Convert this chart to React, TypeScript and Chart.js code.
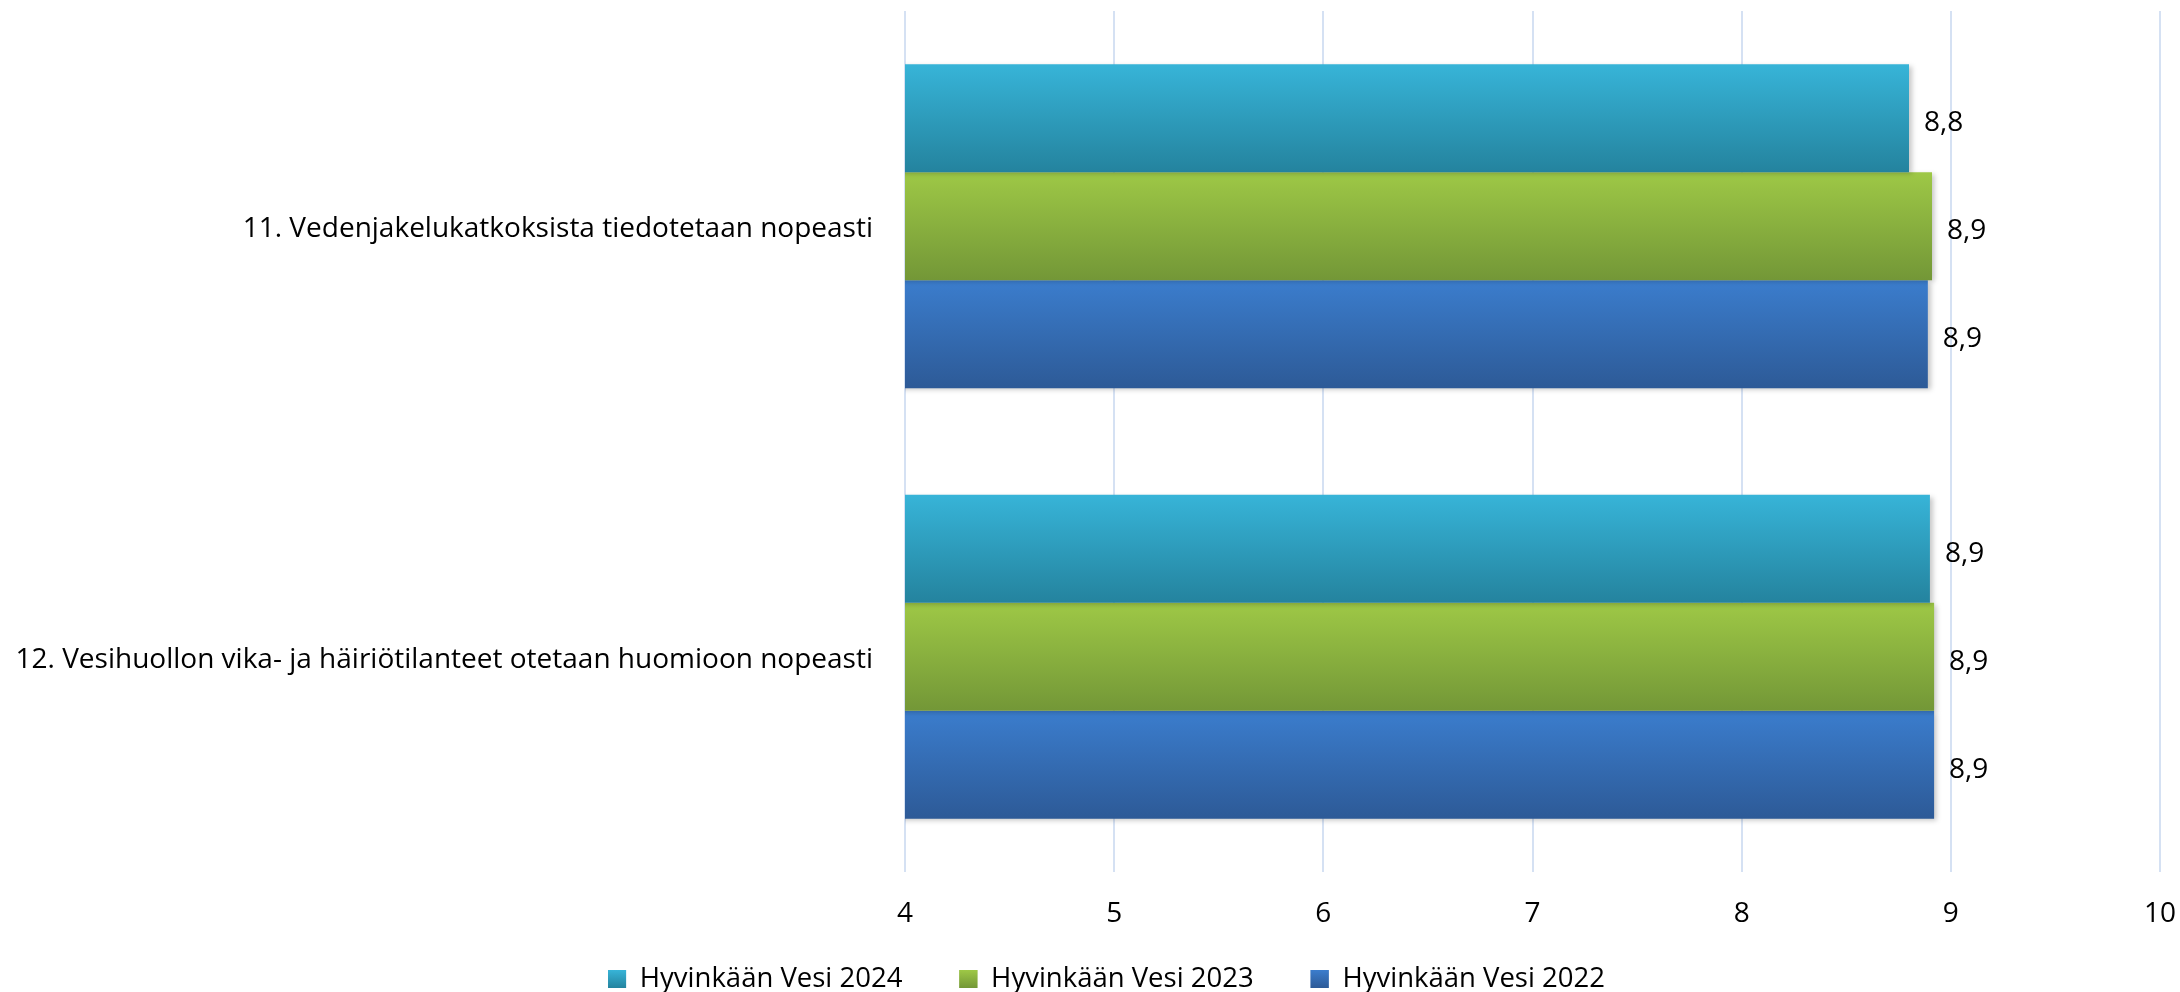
import React, { useEffect, useRef } from 'react';
import { Chart, registerables } from 'chart.js';

Chart.register(...registerables);

const categories = [
  '11. Vedenjakelukatkoksista tiedotetaan nopeasti',
  '12. Vesihuollon vika- ja häiriötilanteet otetaan huomioon nopeasti',
];
const seriesNames = ['Hyvinkään Vesi 2024', 'Hyvinkään Vesi 2023', 'Hyvinkään Vesi 2022'];
const values2024 = [8.8, 8.9];
const values2023 = [8.91, 8.92];
const values2022 = [8.89, 8.92];
const xTicks = [4, 5, 6, 7, 8, 9, 10];
const topColors = ['#37B4D8', '#9EC846', '#3B7DCD'];
const bottomColors = ['#24839E', '#739737', '#2D5A97'];
const midColors = ['#2E9CBC', '#89B040', '#346CB3'];

const FONT_FAMILY = '"Open Sans"';
const FONT_SIZE = 28;
const LEGEND_FONT_SIZE = 27.5;

const fmt = (v: number) => v.toFixed(1).replace('.', ',');

const gradientPlugin = {
  id: 'barGradient',
  afterLayout(chart: any) {
    const legend = chart.legend;
    if (!legend) return;
    const top = 979 - 57 - LEGEND_FONT_SIZE / 2;
    legend.top = top;
    legend.bottom = chart.height;
    legend.height = chart.height - top;
    legend.left = 53;
    legend.right = chart.width - 20;
    legend.width = legend.right - legend.left;
  },
  beforeDatasetsDraw(chart: any) {
    const ctx = chart.ctx;
    chart.data.datasets.forEach((_ds: any, di: number) => {
      const meta = chart.getDatasetMeta(di);
      meta.data.forEach((el: any) => {
        const { y, height } = el.getProps(['y', 'height'], true);
        const g = ctx.createLinearGradient(0, y - height / 2, 0, y + height / 2);
        g.addColorStop(0, topColors[di]);
        g.addColorStop(1, bottomColors[di]);
        el.options = Object.assign({}, el.options, { backgroundColor: g });
      });
    });
  },
  beforeDatasetDraw(chart: any) {
    const ctx = chart.ctx;
    ctx.save();
    ctx.shadowColor = 'rgba(0,0,0,0.22)';
    ctx.shadowBlur = 5;
    ctx.shadowOffsetX = 3;
    ctx.shadowOffsetY = 2;
  },
  afterDatasetDraw(chart: any) {
    chart.ctx.restore();
  },
  afterDatasetsDraw(chart: any) {
    const ctx = chart.ctx;
    ctx.save();
    ctx.font = `${FONT_SIZE}px ${FONT_FAMILY}`;
    ctx.fillStyle = '#000';
    ctx.textAlign = 'left';
    ctx.textBaseline = 'middle';
    chart.data.datasets.forEach((ds: any, di: number) => {
      const meta = chart.getDatasetMeta(di);
      meta.data.forEach((el: any, i: number) => {
        const { x, y } = el.getProps(['x', 'y'], true);
        ctx.fillText(fmt(ds.data[i]), x + 15, y + 5);
      });
    });
    ctx.restore();
  },
  afterDraw(chart: any) {
    const legend = chart.legend;
    if (!legend || !legend.legendHitBoxes) return;
    const ctx = chart.ctx;
    const boxW = 18;
    const boxH = 18;
    legend.legendHitBoxes.forEach((hb: any, i: number) => {
      const top = hb.top + Math.max((LEGEND_FONT_SIZE - boxH) / 2, 0);
      const g = ctx.createLinearGradient(0, top, 0, top + boxH);
      g.addColorStop(0, topColors[i]);
      g.addColorStop(1, bottomColors[i]);
      ctx.save();
      ctx.fillStyle = g;
      ctx.fillRect(hb.left, top, boxW, boxH);
      ctx.restore();
    });
  },
};

export default function App() {
  const canvasRef = useRef<HTMLCanvasElement | null>(null);

  useEffect(() => {
    if (!canvasRef.current) return;
    const font = { family: FONT_FAMILY, size: FONT_SIZE };
    const legendFont = { family: FONT_FAMILY, size: LEGEND_FONT_SIZE };
    const chart = new Chart(canvasRef.current, {
      type: 'bar',
      data: {
        labels: categories,
        datasets: [
          { label: seriesNames[0], data: values2024, backgroundColor: midColors[0], borderWidth: 0 },
          { label: seriesNames[1], data: values2023, backgroundColor: midColors[1], borderWidth: 0 },
          { label: seriesNames[2], data: values2022, backgroundColor: midColors[2], borderWidth: 0 },
        ],
      },
      options: {
        indexAxis: 'y',
        animation: false,
        responsive: false,
        maintainAspectRatio: false,
        layout: { padding: { top: 11, left: 0, right: 20, bottom: 0 } },
        datasets: { bar: { categoryPercentage: 0.7526, barPercentage: 1 } },
        scales: {
          x: {
            type: 'linear',
            min: 4,
            max: 10,
            position: 'bottom',
            afterBuildTicks: (s: any) => {
              s.ticks = xTicks.map((v) => ({ value: v }));
            },
            afterFit: (s: any) => {
              s.height = 80;
            },
            ticks: { padding: 0, font, color: '#000', callback: (v: any) => String(v) },
            grid: { color: '#D5E1F3', lineWidth: 2, drawTicks: true, tickLength: 25, tickColor: 'rgba(0,0,0,0)' },
            border: { display: false },
          },
          y: {
            type: 'category',
            afterFit: (s: any) => {
              s.width = 905;
            },
            ticks: { padding: 0, labelOffset: 3, font: { ...font, lineHeight: 0.6 }, color: '#000' },
            grid: { display: false, drawTicks: true, tickLength: 32 },
            border: { display: false },
          },
        },
        plugins: {
          legend: {
            position: 'bottom',
            maxHeight: 40,
            labels: { boxWidth: 18, boxHeight: 18, padding: 57, font: legendFont, color: '#000' },
          },
          tooltip: { enabled: false },
        },
      } as any,
      plugins: [gradientPlugin],
    });
    return () => chart.destroy();
  }, []);

  return (
    <div style={{ position: 'fixed', left: 0, top: 0, width: 2180, height: 992, background: '#fff' }}>
      <canvas ref={canvasRef} width={2180} height={992} style={{ display: 'block' }} />
    </div>
  );
}
